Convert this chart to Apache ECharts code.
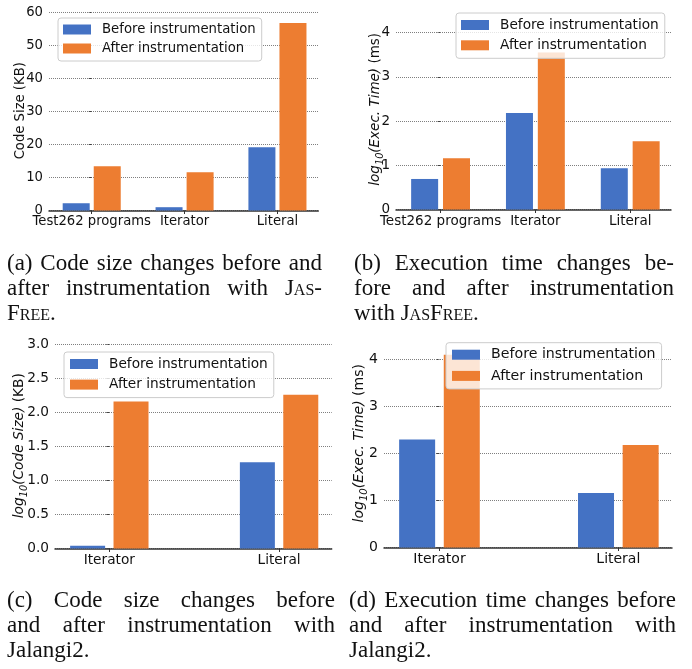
<!DOCTYPE html>
<html>
<head>
<meta charset="utf-8">
<script src="https://cdn.jsdelivr.net/npm/echarts@6/dist/echarts.min.js"></script>
<style>
  body { margin: 0; background: #fff; }
  #wrap { position: relative; width: 692px; height: 669px; overflow: hidden; }
  #chart { position: absolute; left: 0; top: 0; width: 692px; height: 669px; }
  .cap { position: absolute; font-family: "Liberation Serif", serif; font-size: 23px; line-height: 25px; color: #111; }
  .cap .j { text-align: justify; text-align-last: justify; }
  .sc { font-variant: small-caps; }
</style>
</head>
<body>
<div id="wrap">
  <div id="chart"></div>
  <div class="cap" style="left:7px;top:250px;width:315px">
    <div class="j">(a) Code size changes before and</div>
    <div class="j">after instrumentation with <span class="sc">Jas-</span></div>
    <div><span class="sc">Free</span>.</div>
  </div>
  <div class="cap" style="left:354px;top:250px;width:320px">
    <div class="j">(b) Execution time changes be-</div>
    <div class="j">fore and after instrumentation</div>
    <div>with <span class="sc">JasFree</span>.</div>
  </div>
  <div class="cap" style="left:7px;top:587px;width:328px">
    <div class="j">(c) Code size changes before</div>
    <div class="j">and after instrumentation with</div>
    <div>Jalangi2.</div>
  </div>
  <div class="cap" style="left:349px;top:587px;width:327px">
    <div class="j">(d) Execution time changes before</div>
    <div class="j">and after instrumentation with</div>
    <div>Jalangi2.</div>
  </div>
</div>
<script>
// categories
const catsJasfree = ['Test262 programs', 'Iterator', 'Literal'];
const catsJalangi = ['Iterator', 'Literal'];
const seriesNames = ['Before instrumentation', 'After instrumentation'];

// (a) code size, KB
const sizeBeforeJasfree = [2.2, 1.0, 19.2];
const sizeAfterJasfree = [13.4, 11.6, 56.8];
// (b) log10 exec time, ms
const timeBeforeJasfree = [0.69, 2.18, 0.93];
const timeAfterJasfree = [1.16, 3.55, 1.54];
// (c) log10 code size, KB
const sizeBeforeJalangi = [0.04, 1.27];
const sizeAfterJalangi = [2.16, 2.26];
// (d) log10 exec time, ms
const timeBeforeJalangi = [2.30, 1.16];
const timeAfterJalangi = [4.10, 2.18];

// y tick labels
const ticksSizeKB = [0, 10, 20, 30, 40, 50, 60];
const ticksTime = [0, 1, 2, 3, 4];
const ticksLogSize = [0, 0.5, 1, 1.5, 2, 2.5, 3];

const BLUE = '#4472c4';
const ORANGE = '#ed7d31';
const FONT = 'DejaVu Sans';
const INK = '#111';
const GRID_LINE = { type: 'dotted', color: '#7f7f7f', width: 1 };

// the top spine is hidden; each grid reaches ~1.5px above its last tick
// (headroom, in axis units). namePad nudges the rotated y name
const panels = [
  {
    cats: catsJasfree, before: sizeBeforeJasfree, after: sizeAfterJasfree,
    ticks: ticksSizeKB, interval: 10, headroom: 0.45, fmt: v => String(v),
    yName: 'Code Size (KB)', nameGap: 22, namePad: [0, 0, 0, 0],
    grid: { left: 49, top: 11, width: 269.3, height: 199.5 },
    xMin: -0.46, xMax: 2.44, barWidth: 27, barGap: '15%', fs: 13.2,
    legend: { left: 58, top: 18, gap: 6, pad: [5, 6, 6, 5], fs: 13.25 }
  },
  {
    cats: catsJasfree, before: timeBeforeJasfree, after: timeAfterJasfree,
    ticks: ticksTime, interval: 1, headroom: 0.034, fmt: v => String(v),
    yName: '{i|log}{s|10}{i|(Exec. Time)} (ms)', nameGap: 11, namePad: [0, 0, 0, 22],
    grid: { left: 396, top: 31, width: 275, height: 178.5 },
    xMin: -0.47, xMax: 2.43, barWidth: 27, barGap: '18%', fs: 13.5,
    legend: { left: 456, top: 13, gap: 6.3, pad: [5, 6, 6, 5], fs: 13.7 }
  },
  {
    cats: catsJalangi, before: sizeBeforeJalangi, after: sizeAfterJalangi,
    ticks: ticksLogSize, interval: 0.5, headroom: 0.022, fmt: v => v.toFixed(1),
    yName: '{i|log}{s|10}{i|(Code Size)} (KB)', nameGap: 26, namePad: [0, 0, 0, 0],
    grid: { left: 55, top: 343, width: 276.7, height: 205.5 },
    xMin: -0.32, xMax: 1.31, barWidth: 35, barGap: '24%', fs: 13.7,
    legend: { left: 64, top: 352, gap: 6.6, pad: [5, 6, 6, 6], fs: 13.7 }
  },
  {
    cats: catsJalangi, before: timeBeforeJalangi, after: timeAfterJalangi,
    ticks: ticksTime, interval: 1, headroom: 0.032, fmt: v => String(v),
    yName: '{i|log}{s|10}{i|(Exec. Time)} (ms)', nameGap: 15, namePad: [0, 0, 0, 19],
    grid: { left: 384, top: 358, width: 288, height: 189.5 },
    xMin: -0.31, xMax: 1.3, barWidth: 36, barGap: '24%', fs: 14,
    legend: { left: 446, top: 342.7, gap: 7.2, pad: [5, 6, 6, 6], fs: 14.2 }
  }
];

const option = {
  animation: false,
  textStyle: { fontFamily: FONT },
  grid: [], xAxis: [], yAxis: [], legend: [], series: []
};

panels.forEach((p, k) => {
  option.grid.push(Object.assign({ outerBoundsMode: 'none' }, p.grid));

  option.xAxis.push({
    type: 'value', gridIndex: k, min: p.xMin, max: p.xMax,
    splitLine: { show: false },
    axisLine: { show: true, onZero: false, lineStyle: { color: '#333', width: 1.5 } },
    axisTick: { show: true, length: 3.5, customValues: p.cats.map((c, i) => i), lineStyle: { color: '#333' } },
    axisLabel: {
      customValues: p.cats.map((c, i) => i),
      formatter: v => p.cats[Math.round(v)],
      margin: 5, fontSize: p.fs, color: INK, fontFamily: FONT
    }
  });

  const top = p.ticks[p.ticks.length - 1];
  const sub = p.fs * 0.72;
  option.yAxis.push({
    type: 'value', gridIndex: k, min: 0, max: top + p.headroom, interval: p.interval,
    name: p.yName, nameLocation: 'middle', nameRotate: 90, nameGap: p.nameGap,
    nameMoveOverlap: false,
    nameTextStyle: {
      fontSize: p.fs, color: INK, fontFamily: FONT, padding: p.namePad,
      rich: {
        i: { fontStyle: 'italic', fontSize: p.fs, fontFamily: FONT, color: INK },
        s: { fontStyle: 'italic', fontSize: sub, fontFamily: FONT, color: INK, verticalAlign: 'bottom', lineHeight: p.fs * 1.4 }
      }
    },
    axisLine: { show: false },
    axisTick: { show: true, length: 3, customValues: p.ticks, lineStyle: { color: '#444' } },
    axisLabel: { customValues: p.ticks, formatter: p.fmt, margin: 6, fontSize: p.fs, color: INK, fontFamily: FONT },
    splitLine: { show: true, showMaxLine: false, lineStyle: GRID_LINE }
  });

  option.legend.push({
    orient: 'vertical', left: p.legend.left, top: p.legend.top,
    data: seriesNames, icon: 'rect', itemWidth: 28, itemHeight: 10, itemGap: p.legend.gap,
    padding: p.legend.pad, borderColor: '#cccccc', borderWidth: 1, borderRadius: 3,
    backgroundColor: 'rgba(255,255,255,0.8)',
    textStyle: { fontSize: p.legend.fs, color: INK, fontFamily: FONT, padding: [0, 0, 0, 6] }
  });

  // grid line at the last tick, drawn as a plain line across the axis range
  option.series.push({
    name: 'top grid ' + k, type: 'line', xAxisIndex: k, yAxisIndex: k,
    silent: true, symbol: 'none', z: 1, clip: false,
    lineStyle: GRID_LINE,
    data: [[p.xMin, top], [p.xMax, top]]
  });

  [p.before, p.after].forEach((vals, j) => {
    option.series.push({
      name: seriesNames[j], type: 'bar', xAxisIndex: k, yAxisIndex: k,
      barWidth: p.barWidth, barGap: p.barGap, clip: false,
      itemStyle: { color: j === 0 ? BLUE : ORANGE },
      data: vals.map((v, i) => [i, v])
    });
  });
});

const chart = echarts.init(document.getElementById('chart'));
chart.setOption(option);
</script>
</body>
</html>
